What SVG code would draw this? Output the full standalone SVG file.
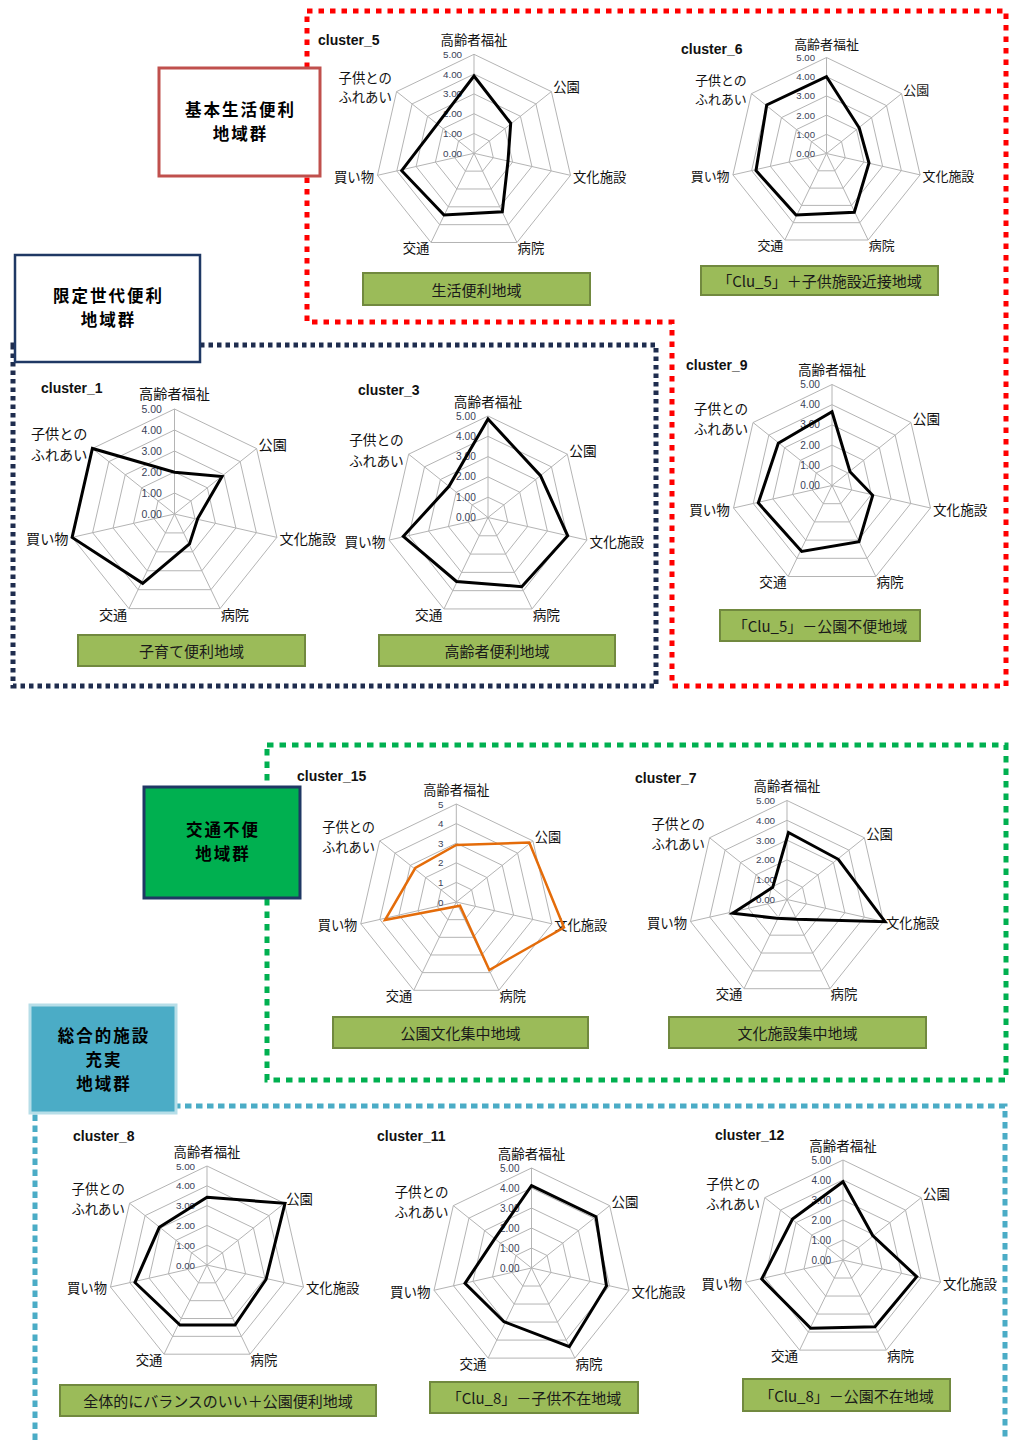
<svg xmlns="http://www.w3.org/2000/svg" xmlns:xlink="http://www.w3.org/1999/xlink" width="1011" height="1440" viewBox="0 0 1011 1440">
<style>
.grid polygon,.grid path{fill:none;stroke:#b4b4b4;stroke-width:1;vector-effect:non-scaling-stroke}
.ax{font-family:"Noto Sans CJK JP",sans-serif;font-size:13.5px;fill:#111;dominant-baseline:central}
.e{text-anchor:end}
.m{text-anchor:middle}
.v{font-family:"Liberation Sans",Arial,sans-serif;font-size:10px;fill:#3a3f58;text-anchor:end;dominant-baseline:central}
.t{font-family:"Liberation Sans",Arial,sans-serif;font-weight:bold;font-size:14px;fill:#111}
.lb rect{fill:#9bbb59;stroke:#71893f;stroke-width:2}
.lb text{font-family:"Noto Sans CJK JP",sans-serif;font-size:15px;fill:#1a1a1a;text-anchor:middle;dominant-baseline:central}
.d{fill:none;stroke:#000;stroke-width:3;stroke-linejoin:miter}
.o{fill:none;stroke:#e46c0a;stroke-width:2.5}
.gb{font-family:"Noto Sans CJK JP",sans-serif;font-weight:bold;font-size:16.5px;letter-spacing:2px;fill:#000;text-anchor:middle;dominant-baseline:central}
.frame{fill:none;stroke-width:5}
</style>
<defs>
<!-- seven-axis radar grid, outer ring radius 100 -->
<g id="grid" class="grid">
<polygon points="0,-100 78.18,-62.35 97.49,22.25 43.39,90.1 -43.39,90.1 -97.49,22.25 -78.18,-62.35"/>
<polygon points="0,-80 62.54,-49.88 77.99,17.8 34.71,72.08 -34.71,72.08 -77.99,17.8 -62.54,-49.88"/>
<polygon points="0,-60 46.91,-37.41 58.49,13.35 26.03,54.06 -26.03,54.06 -58.49,13.35 -46.91,-37.41"/>
<polygon points="0,-40 31.27,-24.94 39,8.9 17.36,36.04 -17.36,36.04 -39,8.9 -31.27,-24.94"/>
<polygon points="0,-20 15.64,-12.47 19.5,4.45 8.68,18.02 -8.68,18.02 -19.5,4.45 -15.64,-12.47"/>
<path d="M0,0L0,-100M0,0L78.18,-62.35M0,0L97.49,22.25M0,0L43.39,90.1M0,0L-43.39,90.1M0,0L-97.49,22.25M0,0L-78.18,-62.35"/>
</g>
</defs>
<rect width="1011" height="1440" fill="#fff"/>

<!-- dotted group frames -->
<g id="frames">
<path class="frame" d="M307,11H1006V686H672V322H307Z" stroke="#ff0000" stroke-dasharray="5.5 6"/>
<path class="frame" d="M13,345H656V686H13Z" stroke="#1f2d4e" stroke-width="4" stroke-dasharray="4.5 4"/>
<path class="frame" d="M267,745H1006V1080H267Z" stroke="#00b050" stroke-dasharray="6.5 6"/>
<path class="frame" d="M35,1440V1106H1005V1440" stroke="#4bacc6" stroke-dasharray="6.5 4.5"/>
</g>

<!-- group boxes -->
<g id="group_basic">
<rect x="159" y="68" width="161" height="108" fill="#fff" stroke="#c0504d" stroke-width="3"/>
<text class="gb" x="240.5" y="109">基本生活便利</text>
<text class="gb" x="240.5" y="133">地域群</text>
</g>
<g id="group_generation">
<rect x="15" y="255" width="185" height="107" fill="#fff" stroke="#1f3864" stroke-width="2.5"/>
<text class="gb" x="108.5" y="295">限定世代便利</text>
<text class="gb" x="108.5" y="319">地域群</text>
</g>
<g id="group_transport">
<rect x="144" y="787" width="156" height="111" fill="#00b050" stroke="#1f3864" stroke-width="3"/>
<text class="gb" x="223" y="828.5">交通不便</text>
<text class="gb" x="223" y="852.5">地域群</text>
</g>
<g id="group_facility">
<rect x="30" y="1005" width="146" height="108" fill="#4bacc6" stroke="#b7dee8" stroke-width="3"/>
<text class="gb" x="104" y="1035">総合的施設</text>
<text class="gb" x="104" y="1059">充実</text>
<text class="gb" x="104" y="1083">地域群</text>
</g>

<!-- cluster_5 -->
<g id="cluster_5">
<text class="t" x="318" y="45">cluster_5</text>
<g transform="translate(474,153.3)">
<g transform="scale(0.99)">
<use href="#grid"/>
<text class="ax m" x="0" y="-115">高齢者福祉</text>
<text class="ax" x="80" y="-67">公園</text>
<text class="ax" x="100" y="23">文化施設</text>
<text class="ax" x="44" y="95">病院</text>
<text class="ax e" x="-45" y="95">交通</text>
<text class="ax e" x="-101" y="23">買い物</text>
<text class="ax e" x="-83" y="-77">子供との</text>
<text class="ax e" x="-83" y="-57">ふれあい</text>
<text class="v" x="-12" y="-100">5.00</text>
<text class="v" x="-12" y="-80">4.00</text>
<text class="v" x="-12" y="-60">3.00</text>
<text class="v" x="-12" y="-40">2.00</text>
<text class="v" x="-12" y="-20">1.00</text>
<text class="v" x="-12" y="0">0.00</text>
</g>
<polygon class="d" points="0,-77.3 36.7,-30 34,7.7 28.3,58.4 -30,61.7 -72.3,17.4 -36.7,-29.2"/>
</g>
<g class="lb"><rect x="363" y="273" width="227" height="32"/><text x="476.5" y="289">生活便利地域</text></g>
</g>

<!-- cluster_6 -->
<g id="cluster_6">
<text class="t" x="681" y="54">cluster_6</text>
<g transform="translate(826.5,153.5)">
<g transform="scale(0.96)">
<use href="#grid"/>
<text class="ax m" x="0" y="-115">高齢者福祉</text>
<text class="ax" x="80" y="-67">公園</text>
<text class="ax" x="100" y="23">文化施設</text>
<text class="ax" x="44" y="95">病院</text>
<text class="ax e" x="-45" y="95">交通</text>
<text class="ax e" x="-101" y="23">買い物</text>
<text class="ax e" x="-83" y="-77">子供との</text>
<text class="ax e" x="-83" y="-57">ふれあい</text>
<text class="v" x="-12" y="-100">5.00</text>
<text class="v" x="-12" y="-80">4.00</text>
<text class="v" x="-12" y="-60">3.00</text>
<text class="v" x="-12" y="-40">2.00</text>
<text class="v" x="-12" y="-20">1.00</text>
<text class="v" x="-12" y="0">0.00</text>
</g>
<polygon class="d" points="0,-76.8 32.8,-25.5 42.5,9.5 27.8,58.8 -30.5,61.5 -70.5,17 -59.8,-48.5"/>
</g>
<g class="lb"><rect x="701" y="266" width="237" height="29"/><text x="819.5" y="280.5">「Clu_5」＋子供施設近接地域</text></g>
</g>

<!-- cluster_1 -->
<g id="cluster_1">
<text class="t" x="41" y="393">cluster_1</text>
<g transform="translate(174.5,514)">
<g transform="scale(1.05)">
<use href="#grid"/>
<text class="ax m" x="0" y="-115">高齢者福祉</text>
<text class="ax" x="80" y="-67">公園</text>
<text class="ax" x="100" y="23">文化施設</text>
<text class="ax" x="44" y="95">病院</text>
<text class="ax e" x="-45" y="95">交通</text>
<text class="ax e" x="-101" y="23">買い物</text>
<text class="ax e" x="-83" y="-77">子供との</text>
<text class="ax e" x="-83" y="-57">ふれあい</text>
<text class="v" x="-12" y="-100">5.00</text>
<text class="v" x="-12" y="-80">4.00</text>
<text class="v" x="-12" y="-60">3.00</text>
<text class="v" x="-12" y="-40">2.00</text>
<text class="v" x="-12" y="-20">1.00</text>
<text class="v" x="-12" y="0">0.00</text>
</g>
<polygon class="d" points="0,-41.7 47.5,-37.5 23.2,4.5 15,30 -31.8,69.3 -102.4,23.4 -82.1,-65.5"/>
</g>
<g class="lb"><rect x="78" y="635" width="227" height="31"/><text x="191.5" y="650.5">子育て便利地域</text></g>
</g>

<!-- cluster_3 -->
<g id="cluster_3">
<text class="t" x="358" y="395">cluster_3</text>
<g transform="translate(488,517.5)">
<g transform="scale(1.015)">
<use href="#grid"/>
<text class="ax m" x="0" y="-115">高齢者福祉</text>
<text class="ax" x="80" y="-67">公園</text>
<text class="ax" x="100" y="23">文化施設</text>
<text class="ax" x="44" y="95">病院</text>
<text class="ax e" x="-45" y="95">交通</text>
<text class="ax e" x="-101" y="23">買い物</text>
<text class="ax e" x="-83" y="-77">子供との</text>
<text class="ax e" x="-83" y="-57">ふれあい</text>
<text class="v" x="-12" y="-100">5.00</text>
<text class="v" x="-12" y="-80">4.00</text>
<text class="v" x="-12" y="-60">3.00</text>
<text class="v" x="-12" y="-40">2.00</text>
<text class="v" x="-12" y="-20">1.00</text>
<text class="v" x="-12" y="0">0.00</text>
</g>
<polygon class="d" points="0,-98.5 52.5,-41.8 79.7,18.3 33.7,69.2 -31.5,64 -84.7,18.8 -39,-31.2"/>
</g>
<g class="lb"><rect x="379" y="635" width="236" height="31"/><text x="497" y="650.5">高齢者便利地域</text></g>
</g>

<!-- cluster_9 -->
<g id="cluster_9">
<text class="t" x="686" y="370">cluster_9</text>
<g transform="translate(832,485.5)">
<g transform="scale(1.01)">
<use href="#grid"/>
<text class="ax m" x="0" y="-115">高齢者福祉</text>
<text class="ax" x="80" y="-67">公園</text>
<text class="ax" x="100" y="23">文化施設</text>
<text class="ax" x="44" y="95">病院</text>
<text class="ax e" x="-45" y="95">交通</text>
<text class="ax e" x="-101" y="23">買い物</text>
<text class="ax e" x="-83" y="-77">子供との</text>
<text class="ax e" x="-83" y="-57">ふれあい</text>
<text class="v" x="-12" y="-100">5.00</text>
<text class="v" x="-12" y="-80">4.00</text>
<text class="v" x="-12" y="-60">3.00</text>
<text class="v" x="-12" y="-40">2.00</text>
<text class="v" x="-12" y="-20">1.00</text>
<text class="v" x="-12" y="0">0.00</text>
</g>
<polygon class="d" points="0,-73.8 18,-13.8 40.7,9.8 27,56.2 -30.3,66 -73.7,17.5 -53.7,-42.2"/>
</g>
<g class="lb"><rect x="720" y="610" width="200" height="31"/><text x="820" y="625.5">「Clu_5」－公園不便地域</text></g>
</g>

<!-- cluster_15 -->
<g id="cluster_15">
<text class="t" x="297" y="781">cluster_15</text>
<g transform="translate(456.3,902)">
<g transform="scale(0.98)">
<use href="#grid"/>
<text class="ax m" x="0" y="-115">高齢者福祉</text>
<text class="ax" x="80" y="-67">公園</text>
<text class="ax" x="100" y="23">文化施設</text>
<text class="ax" x="44" y="95">病院</text>
<text class="ax e" x="-45" y="95">交通</text>
<text class="ax e" x="-101" y="23">買い物</text>
<text class="ax e" x="-83" y="-77">子供との</text>
<text class="ax e" x="-83" y="-57">ふれあい</text>
<text class="v" x="-13" y="-100">5</text>
<text class="v" x="-13" y="-80">4</text>
<text class="v" x="-13" y="-60">3</text>
<text class="v" x="-13" y="-40">2</text>
<text class="v" x="-13" y="-20">1</text>
<text class="v" x="-13" y="0">0</text>
</g>
<polygon class="o" points="0,-57 73,-59.5 107.7,25.5 33,68 3.7,3.7 -71.3,18 -41,-34"/>
</g>
<g class="lb"><rect x="333" y="1017" width="255" height="31"/><text x="460.5" y="1032.5">公園文化集中地域</text></g>
</g>

<!-- cluster_7 -->
<g id="cluster_7">
<text class="t" x="635" y="783">cluster_7</text>
<g transform="translate(787,899.5)">
<g transform="scale(0.99)">
<use href="#grid"/>
<text class="ax m" x="0" y="-115">高齢者福祉</text>
<text class="ax" x="80" y="-67">公園</text>
<text class="ax" x="100" y="23">文化施設</text>
<text class="ax" x="44" y="95">病院</text>
<text class="ax e" x="-45" y="95">交通</text>
<text class="ax e" x="-101" y="23">買い物</text>
<text class="ax e" x="-83" y="-77">子供との</text>
<text class="ax e" x="-83" y="-57">ふれあい</text>
<text class="v" x="-12" y="-100">5.00</text>
<text class="v" x="-12" y="-80">4.00</text>
<text class="v" x="-12" y="-60">3.00</text>
<text class="v" x="-12" y="-40">2.00</text>
<text class="v" x="-12" y="-20">1.00</text>
<text class="v" x="-12" y="0">0.00</text>
</g>
<polygon class="d" points="1.5,-67 51.3,-40.2 98,22.2 9.5,19.8 -10.3,18.8 -54.3,13.8 -14.3,-12.2"/>
</g>
<g class="lb"><rect x="669" y="1017" width="257" height="31"/><text x="797.5" y="1032.5">文化施設集中地域</text></g>
</g>

<!-- cluster_8 -->
<g id="cluster_8">
<text class="t" x="73" y="1141">cluster_8</text>
<g transform="translate(207,1265)">
<g transform="scale(0.99)">
<use href="#grid"/>
<text class="ax m" x="0" y="-115">高齢者福祉</text>
<text class="ax" x="80" y="-67">公園</text>
<text class="ax" x="100" y="23">文化施設</text>
<text class="ax" x="44" y="95">病院</text>
<text class="ax e" x="-45" y="95">交通</text>
<text class="ax e" x="-101" y="23">買い物</text>
<text class="ax e" x="-83" y="-77">子供との</text>
<text class="ax e" x="-83" y="-57">ふれあい</text>
<text class="v" x="-12" y="-100">5.00</text>
<text class="v" x="-12" y="-80">4.00</text>
<text class="v" x="-12" y="-60">3.00</text>
<text class="v" x="-12" y="-40">2.00</text>
<text class="v" x="-12" y="-20">1.00</text>
<text class="v" x="-12" y="0">0.00</text>
</g>
<polygon class="d" points="0,-67.7 78,-61.7 59,14.5 28,60 -27,60 -72,17.5 -47.7,-37.7"/>
</g>
<g class="lb"><rect x="60" y="1385" width="316" height="31"/><text x="218" y="1400.5">全体的にバランスのいい＋公園便利地域</text></g>
</g>

<!-- cluster_11 -->
<g id="cluster_11">
<text class="t" x="377" y="1141">cluster_11</text>
<g transform="translate(531.5,1268)">
<g>
<use href="#grid"/>
<text class="ax m" x="0" y="-115">高齢者福祉</text>
<text class="ax" x="80" y="-67">公園</text>
<text class="ax" x="100" y="23">文化施設</text>
<text class="ax" x="44" y="95">病院</text>
<text class="ax e" x="-45" y="95">交通</text>
<text class="ax e" x="-101" y="23">買い物</text>
<text class="ax e" x="-83" y="-77">子供との</text>
<text class="ax e" x="-83" y="-57">ふれあい</text>
<text class="v" x="-12" y="-100">5.00</text>
<text class="v" x="-12" y="-80">4.00</text>
<text class="v" x="-12" y="-60">3.00</text>
<text class="v" x="-12" y="-40">2.00</text>
<text class="v" x="-12" y="-20">1.00</text>
<text class="v" x="-12" y="0">0.00</text>
</g>
<polygon class="d" points="0,-82.3 64.5,-51.3 75,18 37.8,78.7 -27.5,53.7 -66.5,15.3 -36.7,-29.3"/>
</g>
<g class="lb"><rect x="430" y="1382" width="208" height="31"/><text x="534" y="1397.5">「Clu_8」－子供不在地域</text></g>
</g>

<!-- cluster_12 -->
<g id="cluster_12">
<text class="t" x="715" y="1140">cluster_12</text>
<g transform="translate(843,1260)">
<g>
<use href="#grid"/>
<text class="ax m" x="0" y="-115">高齢者福祉</text>
<text class="ax" x="80" y="-67">公園</text>
<text class="ax" x="100" y="23">文化施設</text>
<text class="ax" x="44" y="95">病院</text>
<text class="ax e" x="-45" y="95">交通</text>
<text class="ax e" x="-101" y="23">買い物</text>
<text class="ax e" x="-83" y="-77">子供との</text>
<text class="ax e" x="-83" y="-57">ふれあい</text>
<text class="v" x="-12" y="-100">5.00</text>
<text class="v" x="-12" y="-80">4.00</text>
<text class="v" x="-12" y="-60">3.00</text>
<text class="v" x="-12" y="-40">2.00</text>
<text class="v" x="-12" y="-20">1.00</text>
<text class="v" x="-12" y="0">0.00</text>
</g>
<polygon class="d" points="0,-78.3 29.7,-24.5 73.7,16.7 32,66.7 -32.3,68.3 -81.3,19 -50.5,-41"/>
</g>
<g class="lb"><rect x="743" y="1379" width="207" height="32"/><text x="846.5" y="1395">「Clu_8」－公園不在地域</text></g>
</g>
</svg>
